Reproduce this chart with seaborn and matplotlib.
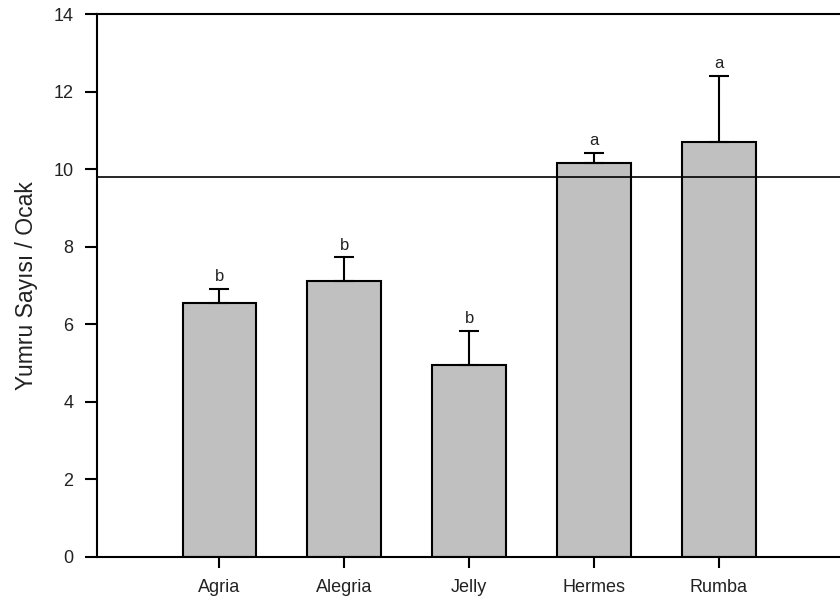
import matplotlib
matplotlib.use("Agg")
import matplotlib.pyplot as plt
import seaborn as sns
import pandas as pd

# Tuber count per plant for each potato variety
varieties = ["Agria", "Alegria", "Jelly", "Hermes", "Rumba"]
means = [6.55, 7.11, 4.95, 10.15, 10.71]
errors = [0.35, 0.61, 0.87, 0.26, 1.70]
letters = ["b", "b", "b", "a", "a"]
overall_mean = 9.79
y_ticks = [0, 2, 4, 6, 8, 10, 12, 14]

df = pd.DataFrame({"variety": varieties, "mean": means})

sns.set_style("white")
plt.rcParams["font.family"] = ["Liberation Sans", "DejaVu Sans"]

fig = plt.figure(figsize=(8.4, 6.03), dpi=100)
ax = fig.add_axes([97 / 840, (603 - 556.7) / 603, 1 - 97 / 840, (556.7 - 14) / 603])

sns.barplot(data=df, x="variety", y="mean", color="#c0c0c0", saturation=1,
            width=0.59, edgecolor="black", linewidth=1.5, errorbar=None, ax=ax)

# upper-only error bars with caps, and significance letters above them
for i, (m, e, lab) in enumerate(zip(means, errors, letters)):
    ax.errorbar(i, m, yerr=[[0], [e]], fmt="none", ecolor="black",
                elinewidth=1.5, capsize=7, capthick=1.5, zorder=3)
    ax.annotate(lab, (i, m + e), xytext=(0, 3.5), textcoords="offset points",
                ha="center", va="bottom", fontsize=12, color="#222222")

ax.axhline(overall_mean, color="black", linewidth=1.2, zorder=4)

ax.set_ylim(0, 14)
ax.set_xlim(-0.98, 4.97)
ax.set_yticks(y_ticks)
ax.set_yticklabels([str(t) for t in y_ticks])
ax.set_xlabel("")
ax.set_ylabel("Yumru Sayısı / Ocak", fontsize=16.5, labelpad=11, color="#222222")

for side in ["left", "top", "bottom"]:
    ax.spines[side].set_visible(True)
    ax.spines[side].set_color("black")
    ax.spines[side].set_linewidth(1.5)
ax.spines["right"].set_visible(False)

ax.tick_params(axis="y", direction="out", length=9, width=1.5, pad=8,
               labelsize=13, left=True, colors="black", labelcolor="#222222")
ax.tick_params(axis="x", direction="out", length=8, width=1.5, pad=8,
               labelsize=13, bottom=True, colors="black", labelcolor="#222222")

fig.savefig("out.png", dpi=100)
